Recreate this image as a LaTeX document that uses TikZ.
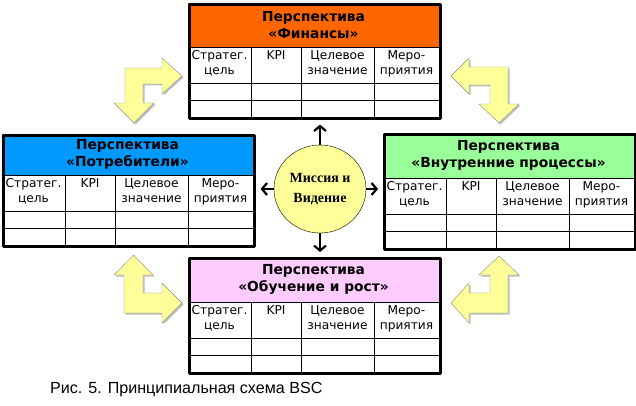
\documentclass[tikz,border=0pt]{standalone}
\usepackage{fontspec}
\setmainfont{DejaVu Sans}
\newfontfamily\captionfont{Liberation Sans}
\newfontfamily\missionfont{Liberation Serif}
\usetikzlibrary{arrows.meta,shapes.geometric,shadows}
\definecolor{finorange}{HTML}{FF6600}
\definecolor{custblue}{HTML}{0099FF}
\definecolor{procgreen}{HTML}{99FF99}
\definecolor{learnpink}{HTML}{FFCCFF}
\definecolor{lightyellow}{HTML}{FFFF99}
\begin{document}
\begin{tikzpicture}[x=1pt, y=-1pt, line join=round,
    bendarrow/.style={fill=lightyellow, draw=black!45, thin, drop shadow={shadow xshift=1.5pt, shadow yshift=-1.5pt, fill=black!25, opacity=1}},
    missionarrow/.style={line width=2.2pt, -{Straight Barb[length=5pt,width=12pt]}, shorten >=5pt},
    celltext/.style={font=\fontsize{12.2}{15}\selectfont, align=center, anchor=north, inner sep=0pt},
    headtext/.style={font=\fontsize{13.8}{17}\selectfont\bfseries, align=center, inner sep=0pt}]
    \useasboundingbox (0,0) rectangle (636,406);

    % Угловые стрелки
    \draw[bendarrow] (125,68) -- (162,68) -- (162,58) -- (182,76) -- (162,94) -- (162,84) -- (143,84) -- (143,103) -- (154,103) -- (134,123) -- (114,103) -- (125,103) -- cycle;
    \draw[bendarrow] (508,67) -- (469,67) -- (469,58) -- (451,76) -- (469,94) -- (469,85) -- (490,85) -- (490,104) -- (479,104) -- (499,123) -- (519,104) -- (508,104) -- cycle;
    \draw[bendarrow] (124,313) -- (124,275) -- (114,275) -- (133.5,255) -- (153,275) -- (143,275) -- (143,293) -- (162,293) -- (162,283) -- (182,303) -- (162,323) -- (162,313) -- cycle;
    \draw[bendarrow] (508,313) -- (508,275) -- (519,275) -- (499,256) -- (479,275) -- (490,275) -- (490,293) -- (469,293) -- (469,283) -- (451,303) -- (469,323) -- (469,313) -- cycle;

    % Перспективы
    \foreach \nm/\x/\y/\h/\col/\title in {fin/188/3/44/finorange/«Финансы», cust/2/134/41/custblue/«Потребители», proc/383/133/45/procgreen/«Внутренние процессы», learn/188/257/45/learnpink/«Обучение и рост»}{
        \fill[\col] (\x,\y) rectangle ++(251,\h);
        \draw[thin] (\x,\y+\h) -- ++(251,0) (\x,\y+\h+36) -- ++(251,0) (\x,\y+\h+53) -- ++(251,0);
        \foreach \c in {63,113,186} \draw[thin] (\x+\c,\y+\h) -- ++(0,70);
        \node[draw, line width=2.6pt, minimum width=251pt, minimum height={(\h+70)*1pt}, anchor=north west] (\nm) at (\x,\y) {};
        \node[headtext] (\nm-head) at (\x+125.5,\y+\h/2) {Перспектива\\\title};
        \node[celltext] (\nm-goal) at (\x+31.5,\y+\h+3) {Стратег.\\цель};
        \node[celltext] (\nm-kpi) at (\x+88,\y+\h+3) {KPI};
        \node[celltext] (\nm-target) at (\x+149.5,\y+\h+3) {Целевое\\значение};
        \node[celltext] (\nm-action) at (\x+218.5,\y+\h+3) {Меро-\\приятия};
    }

    % Миссия и видение
    \node[ellipse, draw, thin, fill=lightyellow, minimum width=92pt, minimum height=88pt, align=center, inner sep=0pt,
        font=\missionfont\bfseries\fontsize{14}{20}\selectfont] (mission) at (320,189) {Миссия и\\Видение};
    \draw[missionarrow] (mission.north) -- (mission.north |- fin.south);
    \draw[missionarrow] (mission.south) -- (mission.south |- learn.north);
    \draw[missionarrow] (mission.west) -- (mission.west -| cust.east);
    \draw[missionarrow] (mission.east) -- (mission.east -| proc.west);

    % Подпись
    \node[font=\captionfont\fontsize{16.1}{18}\selectfont, anchor=west, inner sep=0pt] (caption) at (50,390) {Рис. 5. Принципиальная схема BSC};
\end{tikzpicture}
\end{document}
